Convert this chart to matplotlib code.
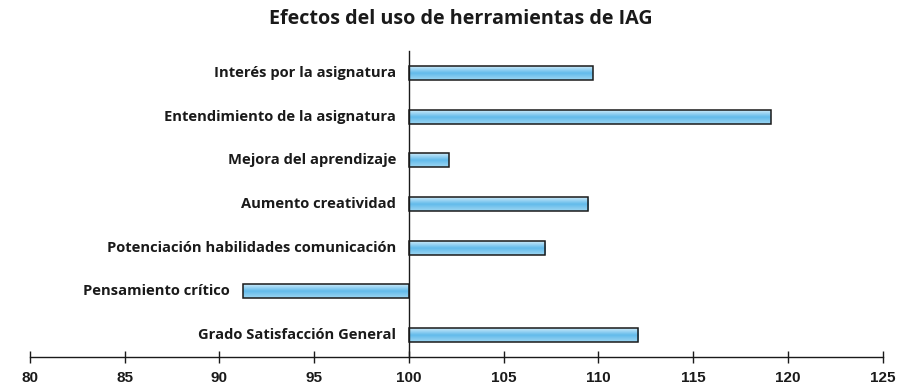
import numpy as np
import matplotlib
matplotlib.use("Agg")
import matplotlib.pyplot as plt
from matplotlib import font_manager

# Survey results (index, 100 = neutral baseline)
categories = [
    "Interés por la asignatura",
    "Entendimiento de la asignatura",
    "Mejora del aprendizaje",
    "Aumento creatividad",
    "Potenciación habilidades comunicación",
    "Pensamiento crítico",
    "Grado Satisfacción General",
]
values = [109.7, 119.1, 102.1, 109.45, 107.2, 91.25, 112.1]
baseline = 100
x_ticks = [80, 85, 90, 95, 100, 105, 110, 115, 120, 125]
title = "Efectos del uso de herramientas de IAG"

available = {f.name for f in font_manager.fontManager.ttflist}
label_font = ["Open Sans", "DejaVu Sans"] if "Open Sans" in available else ["DejaVu Sans"]
tick_font = (["Liberation Sans Narrow", "DejaVu Sans"]
             if "Liberation Sans Narrow" in available else ["Liberation Sans", "DejaVu Sans"])

fig = plt.figure(figsize=(9.01, 3.88), dpi=100)
ax = fig.add_axes([0.0333, 0.0799, 0.9463, 0.7887])

ypos = np.arange(len(categories))
widths = [v - baseline for v in values]
bar_h = 0.32
bars = ax.barh(ypos, widths, left=baseline, height=bar_h,
               facecolor="none", edgecolor="#1a1a1a", linewidth=1.1, zorder=3)

# vertical gradient fill for each bar
prof = np.linspace(0, 1, 64)
top = np.array([0.80, 0.92, 0.98])
mid = np.array([0.38, 0.73, 0.92])
bot = np.array([0.62, 0.84, 0.95])
grad = np.empty((64, 2, 3))
for i, t in enumerate(prof):
    if t < 0.5:
        c = top + (mid - top) * (t / 0.5)
    else:
        c = mid + (bot - mid) * ((t - 0.5) / 0.5)
    grad[i, :, :] = c
for rect in bars.patches:
    x0 = rect.get_x()
    x1 = x0 + rect.get_width()
    y0 = rect.get_y()
    y1 = y0 + rect.get_height()
    im = ax.imshow(grad, extent=[min(x0, x1), max(x0, x1), y1, y0],
                   aspect="auto", zorder=2, interpolation="bicubic")
    im.set_clip_path(rect)

# category labels placed to the left of each bar's start
for y, v, name in zip(ypos, values, categories):
    xs = min(v, baseline)
    ax.annotate(name, xy=(xs, y), xytext=(-13, 0), textcoords="offset pixels",
                ha="right", va="center", fontsize=10.6, fontweight="bold",
                family=label_font, color="#1a1a1a")

ax.set_xlim(80, 125)
ax.set_ylim(len(categories) - 0.5, -0.5)
ax.set_xticks(x_ticks)
ax.set_xticklabels([str(t) for t in x_ticks], family=tick_font,
                   fontweight="bold", fontsize=11, color="#1a1a1a")
ax.set_yticks([])
ax.tick_params(axis="x", direction="inout", length=8, width=1, color="#1a1a1a", pad=6)

for s in ["top", "right"]:
    ax.spines[s].set_visible(False)
ax.spines["left"].set_position(("data", baseline))
ax.spines["left"].set_color("#1a1a1a")
ax.spines["bottom"].set_color("#1a1a1a")
ax.spines["left"].set_linewidth(1)
ax.spines["bottom"].set_linewidth(1)

fig.text(0.511, 0.952, title, ha="center", va="center", fontsize=14.2,
         fontweight="bold", family=label_font, color="#1a1a1a")

fig.savefig("out.png", dpi=100, facecolor="white")
